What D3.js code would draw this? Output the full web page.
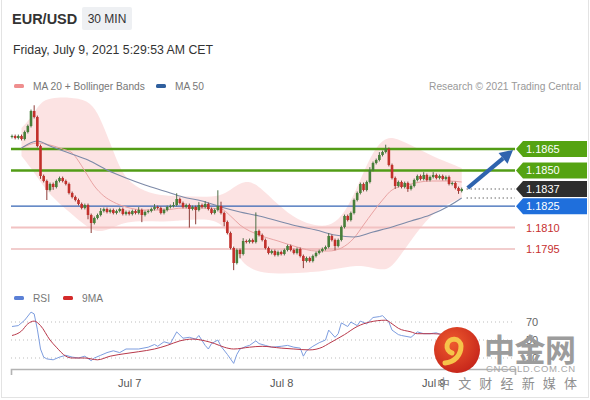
<!DOCTYPE html>
<html><head><meta charset="utf-8">
<script src="https://cdn.jsdelivr.net/npm/d3@7"></script>
<style>
html,body{margin:0;padding:0;background:#fff;}
svg{display:block;font-family:"Liberation Sans",Arial,sans-serif;}
</style></head><body>
<svg id="c" width="590" height="400"></svg>
<script>
// ---------- DATA ----------
const symbol = "EUR/USD";
const period = "30 MIN";
const stamp = "Friday, July 9, 2021 5:29:53 AM CET";
const firstOpen = 1.18734;
// 30-minute closes, Jul 6 05:30 CET .. Jul 9 04:30 CET
const closes = [
1.18741,1.18727,1.18741,1.18720,1.18769,1.18811,1.18916,1.18874,1.18671,1.18461,
1.18426,1.18363,1.18405,1.18384,1.18426,1.18447,1.18426,1.18405,1.18342,1.18314,
1.18293,1.18265,1.18237,1.18258,1.18188,1.18132,1.18167,1.18188,1.18216,1.18230,
1.18209,1.18223,1.18202,1.18216,1.18230,1.18195,1.18209,1.18195,1.18216,1.18202,
1.18223,1.18188,1.18209,1.18216,1.18230,1.18244,1.18237,1.18202,1.18223,1.18244,
1.18251,1.18258,1.18300,1.18272,1.18244,1.18258,1.18230,1.18244,1.18223,1.18258,
1.18244,1.18265,1.18230,1.18202,1.18223,1.18251,1.18202,1.18139,1.18062,1.17957,
1.17852,1.17943,1.17915,1.18006,1.17999,1.18013,1.17999,1.18076,1.18048,1.18013,
1.17957,1.17922,1.17936,1.17908,1.17929,1.17915,1.17943,1.17971,1.17943,1.17922,
1.17950,1.17901,1.17866,1.17887,1.17866,1.17901,1.17922,1.17936,1.17950,1.17964,
1.18041,1.18013,1.17971,1.18013,1.18104,1.18181,1.18153,1.18202,1.18293,1.18342,
1.18405,1.18363,1.18419,1.18503,1.18552,1.18573,1.18608,1.18629,1.18650,1.18538,
1.18447,1.18391,1.18419,1.18384,1.18412,1.18370,1.18391,1.18433,1.18461,1.18440,
1.18468,1.18433,1.18454,1.18468,1.18447,1.18461,1.18440,1.18454,1.18405,1.18412,
1.18377,1.18356,1.18370];
// upper / lower wick length in pips
const wickUp = [
1,1,1,1,1,1,1,4,1,1, 1,1,1,1,1,1,1,1,1,1, 1,1,1,1,1,1,1,1,2,1, 1,1,1,1,1,1,1,1,1,1,
2,1,1,1,1,2,1,1,1,1, 1,2,4,1,1,1,1,1,1,2, 1,2,1,1,1,11,3,1,1,1, 1,1,1,2,1,1,1,13,1,1,
1,1,1,1,1,1,1,1,1,1, 1,1,1,1,1,1,1,1,1,1, 2,1,1,1,1,1,1,1,1,1, 1,1,1,2,1,1,2,1,3,1,
1,1,1,1,1,1,1,1,1,1, 2,1,1,2,1,1,1,1,1,1, 1,1,1];
const wickDn = [
1,1,1,1,1,1,1,1,1,2, 1,7,1,2,1,1,1,1,1,1, 1,1,1,1,3,7,1,1,1,1, 1,1,1,1,1,1,1,1,1,1,
1,5,1,1,1,1,1,1,1,1, 1,1,1,1,1,1,13,1,10,1, 1,1,1,1,1,1,1,3,1,1, 5,1,3,1,1,1,1,1,1,1,
1,1,1,1,1,1,1,1,1,1, 1,1,5,1,1,1,1,1,1,1, 1,1,3,1,1,1,1,1,1,1, 1,1,1,1,1,1,1,1,1,1,
1,2,1,1,1,2,1,1,1,1, 1,1,1,1,1,1,1,1,1,1, 1,2,1];

// MA 20 (candle index -> value)
const ma20Idx = [3,8,12,16,19,21,23,26,29,32,36,42,48,54,60,66,69,72,78,84,90,96,100,104,108,111,114,117,120,126,132,138,142];
const ma20Val = [1.18657,1.18692,1.18678,1.18650,1.18622,1.18566,1.18496,1.18391,1.18321,1.18279,1.18244,1.18223,1.18223,1.18237,1.18237,1.18230,1.18181,1.18118,1.18048,1.18006,1.17964,1.17936,1.17936,1.17957,1.18027,1.18118,1.18209,1.18293,1.18363,1.18405,1.18426,1.18426,1.18419];
// MA 50
const ma50Idx = [3,8,12,18,24,30,36,42,48,54,60,66,72,78,84,90,96,102,108,114,120,126,132,138,142];
const ma50Val = [1.18657,1.18706,1.18671,1.18622,1.18573,1.18503,1.18447,1.18398,1.18356,1.18314,1.18286,1.18244,1.18209,1.18181,1.18146,1.18111,1.18083,1.18048,1.18034,1.18069,1.18104,1.18146,1.18188,1.18251,1.18307];
// Bollinger bands
const bbIdx = [3,6,9,12,18,24,27,30,33,36,42,48,54,60,66,69,72,75,78,84,90,96,100,104,108,111,114,117,120,126,132,138,142];
const bbUpper = [1.18797,1.18867,1.18979,1.19007,1.19014,1.18993,1.18909,1.18748,1.18573,1.18433,1.18349,1.18321,1.18321,1.18314,1.18321,1.18363,1.18412,1.18426,1.18391,1.18258,1.18153,1.18111,1.18111,1.18167,1.18328,1.18489,1.18629,1.18713,1.18741,1.18678,1.18608,1.18552,1.18517];
const bbLower = [1.18601,1.18517,1.18419,1.18328,1.18209,1.18097,1.18069,1.18083,1.18111,1.18139,1.18146,1.18139,1.18153,1.18160,1.18146,1.18013,1.17873,1.17817,1.17789,1.17775,1.17782,1.17789,1.17803,1.17817,1.17831,1.17831,1.17817,1.17803,1.17817,1.18013,1.18188,1.18272,1.18307];

// RSI
const rsiIdx = [0,2,4,6,7,8,9,10,11,13,15,17,19,21,23,25,26,28,30,32,34,36,40,43,45,46,48,50,52,54,56,58,59,61,62,63,65,66,68,70,71,72,74,75,77,78,80,82,85,87,89,91,92,93,95,97,99,100,102,103,104,106,107,109,110,112,114,116,117,119,120,122,123,126,128,130,132,134,136,138,140,142];
const rsiVal = [65,66,72,81,79,62,40,31,29,28,31,33,31,30,32,27,30,33,36,38,36,40,40,42,45,43,48,46,59,52,53,51,55,44,40,46,50,43,34,24,34,40,43,44,49,46,44,42,43,44,42,41,32,38,43,47,50,61,53,57,69,65,70,66,71,68,75,76,77,70,61,56,55,53,59,57,57,58,55,52,49,48];
const ma9Idx = [0,3,5,7,9,12,14,17,19,23,27,31,36,40,45,49,53,57,61,64,67,70,75,79,85,89,94,98,100,105,109,113,118,120,122,126,128,133,137,142];
const ma9Val = [55,60,68,71,66,50,42,32,30,30,28,32,35,37,40,44,49,51,49,46,42,40,42,43,41,40,39,42,46,56,65,70,72,68,63,59,57,57,56,54];
const rsiLevels = [70, 50, 30];

// Key levels
const resistances = [1.1865, 1.1850];
const pivotLevel = 1.1825;
const supports = [1.1810, 1.1795];
const lastPrice = 1.1837;

const tickDates = [new Date(Date.UTC(2021,6,7)), new Date(Date.UTC(2021,6,8)), new Date(Date.UTC(2021,6,9))];
const tickLabels = ["Jul 7", "Jul 8", "Jul 9"];

// ---------- DRAWING ----------
const svg = d3.select("#c");
const t0 = Date.UTC(2021,6,6,5,30);
const step = 30*60*1000;
const tAt = i => new Date(t0 + i*step);
const N = closes.length;
const x = d3.scaleTime().domain([tAt(0), tAt(N-1)]).range([12, 461.7]);
const xi = i => x(tAt(i));
const y = d3.scaleLinear().domain([1.1795, 1.1865]).range([249, 149]);
const yr = d3.scaleLinear().domain([30, 70]).range([358, 322]);
const X0 = 11, X1 = 515;
const fmt = d3.format(".4f");

// card border
svg.append("rect").attr("x",1.5).attr("y",-2).attr("width",587).attr("height",399.5)
  .attr("fill","none").attr("stroke","#e3e3e3");

// header
svg.append("text").attr("x",12).attr("y",24).attr("font-size",14.5).attr("font-weight","bold")
  .attr("fill","#333").text(symbol);
svg.append("rect").attr("x",82).attr("y",7).attr("width",50).attr("height",23).attr("fill","#eef0f3").attr("rx",2);
svg.append("text").attr("x",107).attr("y",23).attr("text-anchor","middle").attr("font-size",12)
  .attr("fill","#333").text(period);
svg.append("text").attr("x",13).attr("y",54).attr("font-size",12.3).attr("fill","#333").text(stamp);

// legend
const lg = svg.append("g").attr("font-size",10.2).attr("fill","#777");
lg.append("rect").attr("x",14).attr("y",84).attr("width",10).attr("height",4).attr("rx",1.5).attr("fill","#ef8e8e");
lg.append("text").attr("x",33).attr("y",89.5).text("MA 20 + Bollinger Bands");
lg.append("rect").attr("x",156).attr("y",84).attr("width",10).attr("height",4).attr("rx",1.5).attr("fill","#2f5f9e");
lg.append("text").attr("x",175).attr("y",89.5).text("MA 50");
svg.append("text").attr("x",581).attr("y",89.5).attr("text-anchor","end").attr("font-size",10.2)
  .attr("fill","#999").text("Research © 2021 Trading Central");

// Bollinger band fill
const bb = bbIdx.map((d,k)=>({i:d, hi:bbUpper[k], lo:bbLower[k]}));
svg.append("path").datum(bb)
  .attr("d", d3.area().x(d=>xi(d.i)).y0(d=>y(d.lo)).y1(d=>y(d.hi)).curve(d3.curveBasis))
  .attr("fill","#fbd9d9").attr("opacity",0.75);

// horizontal levels
const lines = svg.append("g");
resistances.forEach(v=>{
  lines.append("line").attr("x1",X0).attr("x2",X1).attr("y1",y(v)).attr("y2",y(v))
    .attr("stroke","#529c16").attr("stroke-width",2.6);
});
lines.append("line").attr("x1",X0).attr("x2",X1).attr("y1",y(pivotLevel)).attr("y2",y(pivotLevel))
  .attr("stroke","#3565b4").attr("stroke-width",1.3);
lines.append("line").attr("x1",X0).attr("x2",X1).attr("y1",y(supports[0])).attr("y2",y(supports[0]))
  .attr("stroke","#f2c2c2").attr("stroke-width",2);
lines.append("line").attr("x1",X0).attr("x2",X1).attr("y1",y(supports[1])).attr("y2",y(supports[1]))
  .attr("stroke","#e49b9b").attr("stroke-width",1);

// MA lines
const lineGen = d3.line().curve(d3.curveMonotoneX);
svg.append("path").attr("d", lineGen(ma20Idx.map((d,k)=>[xi(d), y(ma20Val[k])])))
  .attr("fill","none").attr("stroke","#e9a3a3").attr("stroke-width",1);
svg.append("path").attr("d", lineGen(ma50Idx.map((d,k)=>[xi(d), y(ma50Val[k])])))
  .attr("fill","none").attr("stroke","#7d8aa8").attr("stroke-width",1.1);

// candles
const candles = closes.map((c,i)=>{
  const o = i===0 ? firstOpen : closes[i-1];
  return {i, o, c, h: Math.max(o,c)+wickUp[i]*0.0001, l: Math.min(o,c)-wickDn[i]*0.0001};
});
const cg = svg.append("g");
candles.forEach(d=>{
  const up = d.c >= d.o;
  const col = up ? "#487f3a" : "#c2302b";
  const cx = xi(d.i);
  cg.append("line").attr("x1",cx).attr("x2",cx).attr("y1",y(d.h)).attr("y2",y(d.l))
    .attr("stroke", up ? "#4d6e47" : "#8c3a36").attr("stroke-width",1);
  const top = y(Math.max(d.o,d.c)), bot = y(Math.min(d.o,d.c));
  cg.append("rect").attr("x",cx-1.3).attr("width",2.6).attr("y",top).attr("height",Math.max(1,bot-top))
    .attr("fill",col);
});

// dotted projections
const lastX = xi(N-1);
svg.append("line").attr("x1",lastX+5).attr("x2",X1).attr("y1",y(lastPrice)).attr("y2",y(lastPrice))
  .attr("stroke","#222").attr("stroke-dasharray","1,3");
svg.append("line").attr("x1",lastX+5).attr("x2",X1).attr("y1",y(ma50Val[ma50Val.length-1])).attr("y2",y(ma50Val[ma50Val.length-1]))
  .attr("stroke","#222").attr("stroke-dasharray","1,3");

// arrow toward target
const ax0 = lastX+6, ay0 = y(closes[N-1]) - 1, ax1 = X1-2, ay1 = y(resistances[0])+1;
const ang = Math.atan2(ay1-ay0, ax1-ax0);
const hl = 13, hw = 7;
const bx = ax1 - hl*Math.cos(ang), by = ay1 - hl*Math.sin(ang);
svg.append("line").attr("x1",ax0).attr("y1",ay0).attr("x2",bx).attr("y2",by)
  .attr("stroke","#2f64ae").attr("stroke-width",4.2);
svg.append("path").attr("d",
  `M${ax1},${ay1}L${bx + hw*Math.sin(ang)},${by - hw*Math.cos(ang)}L${bx - hw*Math.sin(ang)},${by + hw*Math.cos(ang)}Z`)
  .attr("fill","#2f64ae");

// right-hand price labels
function tag(v, fill){
  const yy = y(v);
  svg.append("path").attr("d",`M516,${yy}L523,${yy-8}L587,${yy-8}L587,${yy+8}L523,${yy+8}Z`).attr("fill",fill);
  svg.append("text").attr("x",526).attr("y",yy+4).attr("font-size",11).attr("fill","#fff").text(fmt(v));
}
tag(resistances[0], "#55a312");
tag(resistances[1], "#55a312");
tag(lastPrice, "#2e2e2e");
tag(pivotLevel, "#1f6fdc");
supports.forEach(v=>{
  svg.append("text").attr("x",526).attr("y",y(v)+4).attr("font-size",11).attr("fill","#c62f2f").text(fmt(v));
});

// RSI panel
const rg = svg.append("g");
rg.append("rect").attr("x",14).attr("y",296).attr("width",10).attr("height",4).attr("rx",1.5).attr("fill","#5b80d6");
rg.append("text").attr("x",33).attr("y",302).attr("font-size",10.2).attr("fill","#777").text("RSI");
rg.append("rect").attr("x",63).attr("y",296).attr("width",10).attr("height",4).attr("rx",1.5).attr("fill","#d42a2a");
rg.append("text").attr("x",82).attr("y",302).attr("font-size",10.2).attr("fill","#777").text("9MA");
rsiLevels.forEach(v=>{
  rg.append("line").attr("x1",X0).attr("x2",X1).attr("y1",yr(v)).attr("y2",yr(v))
    .attr("stroke","#bdbdbd").attr("stroke-dasharray","1,3");
  rg.append("text").attr("x",526).attr("y",yr(v)+4).attr("font-size",11).attr("fill","#666").text(v);
});
rg.append("path").attr("d", d3.line()(rsiIdx.map((d,k)=>[xi(d), yr(rsiVal[k])])))
  .attr("fill","none").attr("stroke","#7d9ddf").attr("stroke-width",1);
rg.append("path").attr("d", d3.line().curve(d3.curveMonotoneX)(ma9Idx.map((d,k)=>[xi(d), yr(ma9Val[k])])))
  .attr("fill","none").attr("stroke","#b8384a").attr("stroke-width",1);

// x axis
const xa = x.copy().domain([x.invert(X0), x.invert(X1)]).range([X0, X1]);
const axis = d3.axisBottom(xa).tickValues(tickDates).tickFormat((d,k)=>tickLabels[k])
  .tickSize(0).tickSizeOuter(6).tickPadding(10);
const ag = svg.append("g").attr("transform","translate(0,369)").call(axis);
ag.select(".domain").attr("stroke","#b3b3b3").attr("stroke-width",1.6);
ag.selectAll("text").attr("font-size",11).attr("fill","#555").attr("font-family","Liberation Sans, Arial, sans-serif");

// watermark
const wm = svg.append("g");
const grad = svg.append("defs").append("radialGradient").attr("id","wg").attr("cx","40%").attr("cy","35%").attr("r","70%");
grad.append("stop").attr("offset","0%").attr("stop-color","#ee5a2e");
grad.append("stop").attr("offset","100%").attr("stop-color","#c5241a");
wm.append("circle").attr("cx",457).attr("cy",350).attr("r",23).attr("fill","url(#wg)");
wm.append("path").attr("d","M452,353 a7,7 0 1,1 9,-7 c0,9 -6,16 -16,17")
  .attr("fill","none").attr("stroke","#f6c44a").attr("stroke-width",5).attr("stroke-linecap","round");
wm.append("text").attr("x",484).attr("y",361).attr("font-size",31).attr("font-weight","bold")
  .attr("font-family","Noto Sans CJK SC").attr("fill","#9c9c9c").attr("textLength",92).text("中金网");
wm.append("text").attr("x",486).attr("y",372).attr("font-size",9.5).attr("fill","#a8a8a8")
  .attr("textLength",89).text("CNGOLD.COM.CN");
wm.append("text").attr("x",437).attr("y",388).attr("font-size",13).attr("font-family","Noto Sans CJK SC")
  .attr("fill","#8f8f8f").attr("textLength",140).text("中 文 财 经 新 媒 体");
</script>
</body></html>
